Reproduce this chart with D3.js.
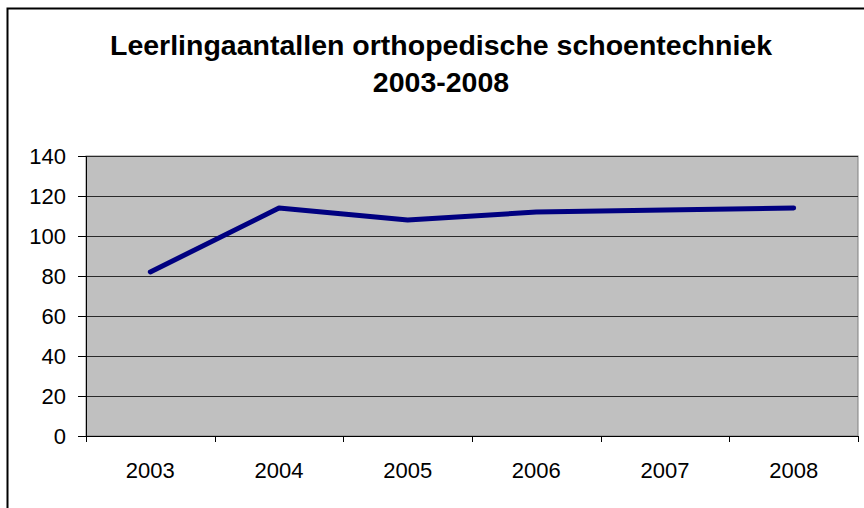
<!DOCTYPE html>
<html>
<head>
<meta charset="utf-8">
<script src="https://cdn.jsdelivr.net/npm/d3@7"></script>
<style>
  body { margin: 0; background: #fff; }
  svg { display: block; font-family: "Liberation Sans", Arial, sans-serif; }
</style>
</head>
<body>
<div id="chart"></div>
<script>
// data
const years = ["2003", "2004", "2005", "2006", "2007", "2008"];
const pupils = [82, 114, 108, 112, 113, 114];
const yTicks = [0, 20, 40, 60, 80, 100, 120, 140];
const titleLines = ["Leerlingaantallen orthopedische schoentechniek", "2003-2008"];

const W = 864, H = 508;
const margin = {top: 156, right: 6, bottom: 72, left: 86};
const width = W - margin.left - margin.right;
const height = H - margin.top - margin.bottom;

const svg = d3.select("#chart").append("svg")
    .attr("width", W)
    .attr("height", H);

// outer chart frame (runs off the right and bottom edge)
svg.append("rect")
    .attr("x", 7.5).attr("y", 8.5)
    .attr("width", W + 20).attr("height", H + 20)
    .attr("fill", "none")
    .attr("stroke", "#000")
    .attr("stroke-width", 2);

// title
svg.append("text")
    .attr("x", 441)
    .attr("y", 55)
    .attr("text-anchor", "middle")
    .style("font-size", "28.5px")
    .style("font-weight", "bold")
    .selectAll("tspan")
    .data(titleLines)
    .join("tspan")
      .attr("x", 441)
      .attr("dy", (d, i) => i ? 37 : 0)
      .text(d => d);

const g = svg.append("g")
    .attr("transform", `translate(${margin.left},${margin.top})`);

const x = d3.scaleBand().domain(years).range([0, width]);
const y = d3.scaleLinear().domain([0, 140]).range([height, 0]);

// plot area
g.append("rect")
    .attr("width", width)
    .attr("height", height)
    .attr("fill", "#c0c0c0")
    .attr("stroke", "#808080")
    .attr("stroke-width", 1);

// gridlines
g.append("g")
    .selectAll("line")
    .data(yTicks.filter(d => d > 0))
    .join("line")
      .attr("x1", 0).attr("x2", width)
      .attr("y1", d => Math.round(y(d)) + 0.5)
      .attr("y2", d => Math.round(y(d)) + 0.5)
      .attr("stroke", "#2a2a2a")
      .attr("stroke-width", 1);

// y axis
const yAxis = d3.axisLeft(y).tickValues(yTicks).tickSize(8).tickPadding(12);
const yAxisG = g.append("g").call(yAxis);
yAxisG.select(".domain").attr("stroke", "#000");
yAxisG.selectAll(".tick line").attr("stroke", "#000");
yAxisG.selectAll("text")
    .attr("fill", "#000")
    .style("font-size", "22px")
    .style("font-family", "Liberation Sans, Arial, sans-serif");

// x axis: ticks on category boundaries, labels centred
const xAxisG = g.append("g").attr("transform", `translate(0,${height})`);
xAxisG.append("line")
    .attr("x1", 0).attr("x2", width)
    .attr("y1", 0.5).attr("y2", 0.5)
    .attr("stroke", "#000");
xAxisG.selectAll(".xtick")
    .data(d3.range(years.length + 1))
    .join("line")
      .attr("class", "xtick")
      .attr("x1", i => Math.round(i * x.step()) + 0.5)
      .attr("x2", i => Math.round(i * x.step()) + 0.5)
      .attr("y1", 0).attr("y2", 6)
      .attr("stroke", "#000");
xAxisG.selectAll(".xlabel")
    .data(years)
    .join("text")
      .attr("class", "xlabel")
      .attr("x", d => x(d) + x.bandwidth() / 2)
      .attr("y", 42)
      .attr("text-anchor", "middle")
      .style("font-size", "22px")
      .text(d => d);

// series line
const line = d3.line()
    .x((d, i) => x(years[i]) + x.bandwidth() / 2)
    .y(d => y(d));

g.append("path")
    .datum(pupils)
    .attr("d", line)
    .attr("fill", "none")
    .attr("stroke", "#000080")
    .attr("stroke-width", 5)
    .attr("stroke-linejoin", "round")
    .attr("stroke-linecap", "round");
</script>
</body>
</html>
